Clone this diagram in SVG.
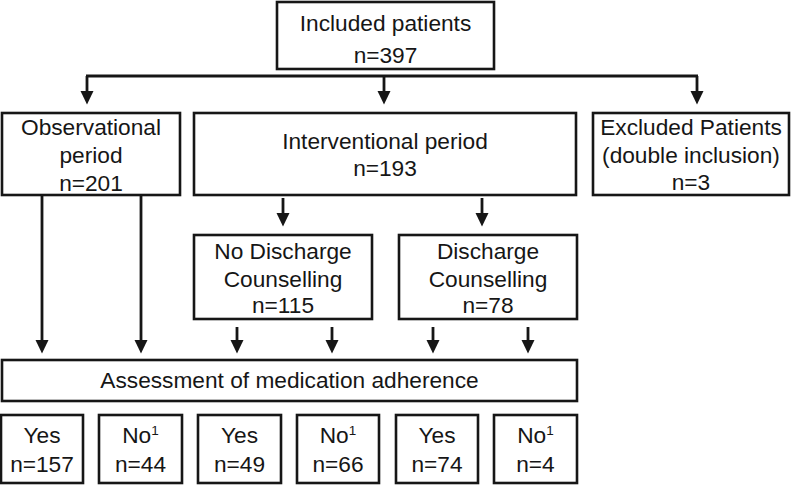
<svg xmlns="http://www.w3.org/2000/svg" width="800" height="485" viewBox="0 0 800 485">
<defs>
<style>
.box{fill:#fff;stroke:#161616;stroke-width:2.6}
.t{font-family:"Liberation Sans",Arial,sans-serif;font-size:22.7px;fill:#161616;text-anchor:middle}
.c{stroke:#161616;stroke-width:2.8;fill:none}
.sup{font-size:13.5px}
</style>
<marker id="ah" markerUnits="userSpaceOnUse" markerWidth="14" markerHeight="14" refX="0" refY="7" orient="auto" viewBox="0 0 14 14">
<path d="M0,0.5 L13.5,7 L0,13.5 z" fill="#161616"/>
</marker>
</defs>
<rect width="800" height="485" fill="#fff"/>

<g id="connectors">
<line class="c" x1="86" y1="76" x2="698" y2="76"/>
<line class="c" x1="87" y1="76" x2="87" y2="91" marker-end="url(#ah)"/>
<line class="c" x1="384" y1="76" x2="384" y2="91" marker-end="url(#ah)"/>
<line class="c" x1="697" y1="76" x2="697" y2="91" marker-end="url(#ah)"/>
<line class="c" x1="283" y1="198" x2="283" y2="213" marker-end="url(#ah)"/>
<line class="c" x1="482" y1="198" x2="482" y2="213" marker-end="url(#ah)"/>
<line class="c" x1="42" y1="195" x2="42" y2="340" marker-end="url(#ah)"/>
<line class="c" x1="141" y1="195" x2="141" y2="340" marker-end="url(#ah)"/>
<line class="c" x1="237" y1="327" x2="237" y2="340" marker-end="url(#ah)"/>
<line class="c" x1="332" y1="327" x2="332" y2="340" marker-end="url(#ah)"/>
<line class="c" x1="433" y1="327" x2="433" y2="340" marker-end="url(#ah)"/>
<line class="c" x1="528" y1="327" x2="528" y2="340" marker-end="url(#ah)"/>
</g>

<g id="included">
<rect class="box" x="277" y="2" width="217" height="67"/>
<text class="t" x="385.5" y="31">Included patients</text>
<text class="t" x="385.5" y="63">n=397</text>
</g>

<g id="observational">
<rect class="box" x="2" y="113" width="178" height="82"/>
<text class="t" x="91" y="135">Observational</text>
<text class="t" x="91" y="163">period</text>
<text class="t" x="91" y="191">n=201</text>
</g>

<g id="interventional">
<rect class="box" x="194" y="113" width="382" height="82"/>
<text class="t" x="385" y="149">Interventional period</text>
<text class="t" x="385" y="176">n=193</text>
</g>

<g id="excluded">
<rect class="box" x="593" y="113" width="196" height="82"/>
<text class="t" x="691" y="135">Excluded Patients</text>
<text class="t" x="691" y="163">(double inclusion)</text>
<text class="t" x="691" y="190">n=3</text>
</g>

<g id="no-discharge">
<rect class="box" x="194" y="235" width="178" height="84"/>
<text class="t" x="283" y="259">No Discharge</text>
<text class="t" x="283" y="287">Counselling</text>
<text class="t" x="283" y="313">n=115</text>
</g>

<g id="discharge">
<rect class="box" x="399" y="235" width="178" height="84"/>
<text class="t" x="488" y="259">Discharge</text>
<text class="t" x="488" y="287">Counselling</text>
<text class="t" x="488" y="313">n=78</text>
</g>

<g id="assessment">
<rect class="box" x="2" y="360" width="575" height="41"/>
<text class="t" x="289.5" y="388">Assessment of medication adherence</text>
</g>

<g id="obs-yes">
<rect class="box" x="1" y="415" width="82" height="68"/>
<text class="t" x="42" y="443">Yes</text>
<text class="t" x="42" y="472">n=157</text>
</g>
<g id="obs-no">
<rect class="box" x="99" y="415" width="83" height="68"/>
<text class="t" x="140.5" y="443">No<tspan class="sup" dy="-8">1</tspan></text>
<text class="t" x="140.5" y="472">n=44</text>
</g>
<g id="nodc-yes">
<rect class="box" x="198" y="415" width="83" height="68"/>
<text class="t" x="239.5" y="443">Yes</text>
<text class="t" x="239.5" y="472">n=49</text>
</g>
<g id="nodc-no">
<rect class="box" x="297" y="415" width="82" height="68"/>
<text class="t" x="338" y="443">No<tspan class="sup" dy="-8">1</tspan></text>
<text class="t" x="338" y="472">n=66</text>
</g>
<g id="dc-yes">
<rect class="box" x="396" y="415" width="82" height="68"/>
<text class="t" x="437" y="443">Yes</text>
<text class="t" x="437" y="472">n=74</text>
</g>
<g id="dc-no">
<rect class="box" x="494" y="415" width="83" height="68"/>
<text class="t" x="535.5" y="443">No<tspan class="sup" dy="-8">1</tspan></text>
<text class="t" x="535.5" y="472">n=4</text>
</g>
</svg>
